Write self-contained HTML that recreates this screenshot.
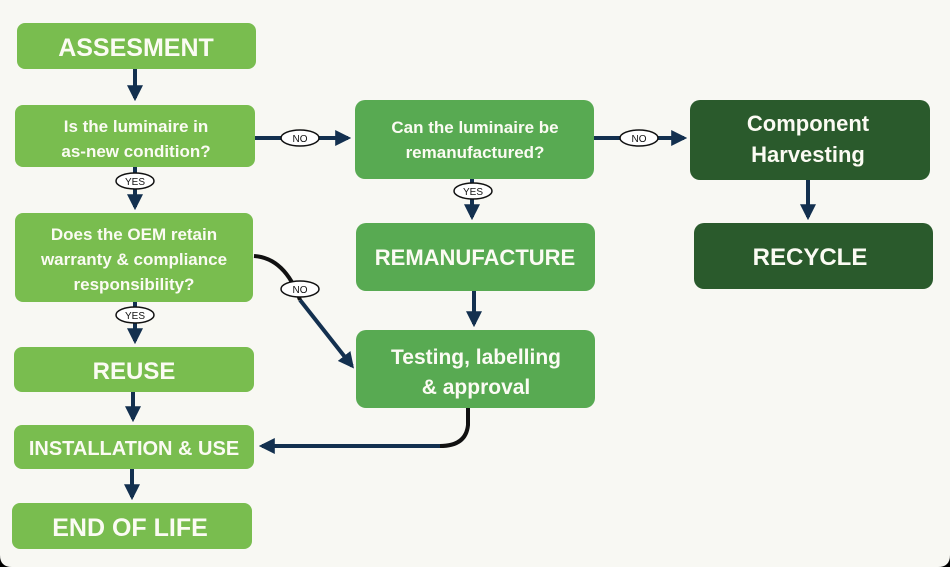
<!DOCTYPE html>
<html><head><meta charset="utf-8"><style>
html,body{margin:0;padding:0;background:#000;}
svg{display:block;}
text{font-family:"Liberation Sans",sans-serif;font-weight:bold;fill:#fbfbf3;text-anchor:middle;}
.lb{font-size:10px;fill:#111;font-weight:normal;}
</style></head><body>
<svg width="950" height="567" viewBox="0 0 950 567" xmlns="http://www.w3.org/2000/svg">
<defs>
<marker id="ah" viewBox="0 0 10 10" refX="8" refY="5" markerWidth="4" markerHeight="4" orient="auto"><path d="M0,0 L10,5 L0,10 z" fill="#13304f"/></marker>
</defs>
<path d="M0,0 H950 V555 Q950,567 938,567 H12 Q0,567 0,555 Z" fill="#f8f8f3"/>
<!-- left column -->
<rect x="17" y="23" width="239" height="46" rx="8" fill="#79bd4f"/>
<text x="136" y="56" font-size="25">ASSESMENT</text>
<rect x="15" y="105" width="240" height="62" rx="8" fill="#79bd4f"/>
<text x="136" y="132" font-size="17">Is the luminaire in</text>
<text x="136" y="157" font-size="17">as-new condition?</text>
<rect x="15" y="213" width="238" height="89" rx="8" fill="#79bd4f"/>
<text x="134" y="240" font-size="17">Does the OEM retain</text>
<text x="134" y="265" font-size="17">warranty &amp; compliance</text>
<text x="134" y="290" font-size="17">responsibility?</text>
<rect x="14" y="347" width="240" height="45" rx="8" fill="#79bd4f"/>
<text x="134" y="379" font-size="24">REUSE</text>
<rect x="14" y="425" width="240" height="44" rx="8" fill="#79bd4f"/>
<text x="134" y="455" font-size="20">INSTALLATION &amp; USE</text>
<rect x="12" y="503" width="240" height="46" rx="8" fill="#79bd4f"/>
<text x="130" y="536" font-size="25">END OF LIFE</text>
<!-- middle -->
<rect x="355" y="100" width="239" height="79" rx="10" fill="#58aa52"/>
<text x="475" y="133" font-size="17">Can the luminaire be</text>
<text x="475" y="158" font-size="17">remanufactured?</text>
<rect x="356" y="223" width="239" height="68" rx="10" fill="#58aa52"/>
<text x="475" y="265" font-size="22">REMANUFACTURE</text>
<rect x="356" y="330" width="239" height="78" rx="10" fill="#58aa52"/>
<text x="476" y="364" font-size="21">Testing, labelling</text>
<text x="476" y="394" font-size="21">&amp; approval</text>
<!-- right -->
<rect x="690" y="100" width="240" height="80" rx="10" fill="#2a5a2c"/>
<text x="808" y="131" font-size="22" font-weight="normal">Component</text>
<text x="808" y="162" font-size="22">Harvesting</text>
<rect x="694" y="223" width="239" height="66" rx="10" fill="#2a5a2c"/>
<text x="810" y="265" font-size="24">RECYCLE</text>
<!-- connectors -->
<g stroke="#13304f" stroke-width="4" fill="none">
<line x1="135" y1="69" x2="135" y2="98" marker-end="url(#ah)"/>
<line x1="135" y1="167" x2="135" y2="207" marker-end="url(#ah)"/>
<line x1="255" y1="138" x2="348" y2="138" marker-end="url(#ah)"/>
<line x1="594" y1="138" x2="684" y2="138" marker-end="url(#ah)"/>
<line x1="472" y1="179" x2="472" y2="217" marker-end="url(#ah)"/>
<line x1="808" y1="180" x2="808" y2="217" marker-end="url(#ah)"/>
<line x1="474" y1="291" x2="474" y2="324" marker-end="url(#ah)"/>
<line x1="135" y1="302" x2="135" y2="341" marker-end="url(#ah)"/>
<line x1="133" y1="392" x2="133" y2="419" marker-end="url(#ah)"/>
<line x1="132" y1="469" x2="132" y2="497" marker-end="url(#ah)"/>
<path d="M300,300 L352,366" marker-end="url(#ah)"/>
<path d="M440,446 L262,446" marker-end="url(#ah)"/>
</g>
<path d="M254,256 Q285,258 300,300" stroke="#111" stroke-width="4" fill="none"/>
<path d="M468,408 L468,425 Q466,446 440,446" stroke="#111" stroke-width="4" fill="none"/>
<!-- labels -->
<g fill="#fff" stroke="#111" stroke-width="1.5">
<ellipse cx="300" cy="138" rx="19" ry="8"/>
<ellipse cx="639" cy="138" rx="19" ry="8"/>
<ellipse cx="135" cy="181" rx="19" ry="8"/>
<ellipse cx="473" cy="191" rx="19" ry="8"/>
<ellipse cx="135" cy="315" rx="19" ry="8"/>
<ellipse cx="300" cy="289" rx="19" ry="8"/>
</g>
<text class="lb" x="300" y="142">NO</text>
<text class="lb" x="639" y="142">NO</text>
<text class="lb" x="135" y="185" font-size="9">YES</text>
<text class="lb" x="473" y="195" font-size="9">YES</text>
<text class="lb" x="135" y="319" font-size="9">YES</text>
<text class="lb" x="300" y="293">NO</text>
</svg>
</body></html>
